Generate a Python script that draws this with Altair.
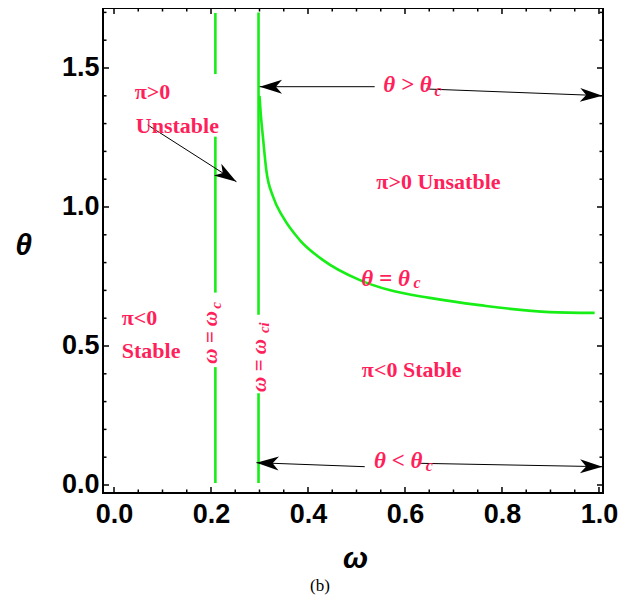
import altair as alt
import pandas as pd

# ---------------- data ----------------
# critical curve theta = theta_c(omega)
curve_omega = [0.3000, 0.3025, 0.307, 0.314, 0.328, 0.348, 0.383, 0.431, 0.507, 0.568, 0.651, 0.754, 0.898, 0.991]
curve_theta = [1.400, 1.337, 1.253, 1.133, 1.037, 0.965, 0.881, 0.809, 0.737, 0.701, 0.673, 0.647, 0.622, 0.619]

# vertical critical lines omega = omega_c and omega = omega_ci (theta ranges of visible pieces)
omega_c = 0.209
omega_ci = 0.298
omega_c_pieces = [(1.698, 1.478), (1.253, 0.692), (0.424, 0.007)]
omega_ci_pieces = [(1.700, 0.612), (0.330, 0.007)]

# ticks
x_major = [0.0, 0.2, 0.4, 0.6, 0.8, 1.0]
x_minor = [0.05, 0.1, 0.15, 0.25, 0.3, 0.35, 0.45, 0.5, 0.55, 0.65, 0.7, 0.75, 0.85, 0.9, 0.95]
y_major = [0.0, 0.5, 1.0, 1.5]
y_minor = [0.1, 0.2, 0.3, 0.4, 0.6, 0.7, 0.8, 0.9, 1.1, 1.2, 1.3, 1.4, 1.6, 1.7]

# arrows: shaft pieces (omega0, theta0, omega1, theta1)
arrow_shafts = [
    (0.0695, 1.295, 0.2524, 1.091),
    (0.3004, 1.4327, 0.5375, 1.4327),
    (0.644, 1.4245, 1.007, 1.4004),
    (0.2936, 0.0802, 0.517, 0.0658),
    (0.630, 0.078, 1.007, 0.0658),
]
# arrow heads: tip position and direction (deg, clockwise from +x on screen)
head_omega = [0.2524, 0.3004, 1.007, 0.2936, 1.007]
head_theta = [1.091, 1.4327, 1.4004, 0.0802, 0.0658]
head_angle = [32.6, 180.0, 2.2, 182.1, 1.1]

# annotations
upright_text = ["π>0", "Unstable", "π>0 Unsatble", "π<0", "Stable", "π<0 Stable"]
upright_omega = [0.0427, 0.045, 0.669, 0.016, 0.016, 0.511]
upright_theta = [1.414, 1.291, 1.090, 0.601, 0.482, 0.414]
upright_align = ["left", "left", "center", "left", "left", "left"]

italic_text = ["θ = θ", "θ > θ", "θ < θ"]
italic_omega = [0.560, 0.605, 0.586]
italic_theta = [0.741, 1.439, 0.0863]
sub_text = ["c", "c", "c"]
sub_omega = [0.625, 0.668, 0.650]
sub_theta = [0.725, 1.417, 0.068]

rot_text = ["ω = ω", "ω = ω"]
rot_omega = [0.2008, 0.302]
rot_theta = [0.531, 0.430]
rot_sub_text = ["c", "ci"]
rot_sub_omega = [0.211, 0.3087]
rot_sub_theta = [0.646, 0.566]

# ---------------- tables ----------------
rows = []
for i, (o, t) in enumerate(zip(curve_omega, curve_theta)):
    rows.append({"seg": "curve", "order": i, "omega": o, "theta": t})
for k, (t0, t1) in enumerate(omega_c_pieces):
    rows.append({"seg": f"c{k}", "order": 0, "omega": omega_c, "theta": t0})
    rows.append({"seg": f"c{k}", "order": 1, "omega": omega_c, "theta": t1})
for k, (t0, t1) in enumerate(omega_ci_pieces):
    rows.append({"seg": f"ci{k}", "order": 0, "omega": omega_ci, "theta": t0})
    rows.append({"seg": f"ci{k}", "order": 1, "omega": omega_ci, "theta": t1})
lines_df = pd.DataFrame(rows)

arows = []
for k, (o0, t0, o1, t1) in enumerate(arrow_shafts):
    arows.append({"seg": k, "order": 0, "omega": o0, "theta": t0})
    arows.append({"seg": k, "order": 1, "omega": o1, "theta": t1})
shaft_df = pd.DataFrame(arows)
head_df = pd.DataFrame({"omega": head_omega, "theta": head_theta, "angle": head_angle})

up_df = pd.DataFrame({"text": upright_text, "omega": upright_omega, "theta": upright_theta, "align": upright_align})
it_df = pd.DataFrame({"text": italic_text, "omega": italic_omega, "theta": italic_theta})
sub_df = pd.DataFrame({"text": sub_text, "omega": sub_omega, "theta": sub_theta})
rot_df = pd.DataFrame({"text": rot_text, "omega": rot_omega, "theta": rot_theta})
rsub_df = pd.DataFrame({"text": rot_sub_text, "omega": rot_sub_omega, "theta": rot_sub_theta})

# ---------------- chart ----------------
W, H = 500, 485
xs = alt.Scale(domain=[-0.0227, 1.0083], nice=False, zero=False)
ys = alt.Scale(domain=[-0.0288, 1.7158], nice=False, zero=False)
GREEN = "#16EE16"
RED = "#FF1F5B"

x_axis = alt.Axis(
    values=x_major, format=".1f", ticks=False, domain=False, grid=False,
    labelFont="Liberation Sans", labelFontWeight="bold", labelFontSize=27, labelColor="black",
    labelPadding=8, labelFlush=False,
    title="ω", titleFont="Liberation Sans", titleFontWeight="bold", titleFontStyle="italic",
    titleFontSize=30, titleColor="black", titleX=252, titleY=65, titleBaseline="middle", titleAlign="center",
)
y_axis = alt.Axis(
    values=y_major, format=".1f", ticks=False, domain=False, grid=False,
    labelFont="Liberation Sans", labelFontWeight="bold", labelFontSize=27, labelColor="black",
    labelPadding=4, labelFlush=False,
    title="θ", titleFont="Liberation Sans", titleFontWeight="bold", titleFontStyle="italic",
    titleFontSize=30, titleColor="black", titleAngle=0, titleX=-80, titleY=237,
    titleBaseline="middle", titleAlign="center",
)

X = lambda: alt.X("omega:Q", scale=xs, axis=x_axis)
Y = lambda: alt.Y("theta:Q", scale=ys, axis=y_axis)

green = alt.Chart(lines_df).mark_line(color=GREEN, strokeWidth=2.6, interpolate="monotone").encode(
    x=X(), y=Y(), detail="seg:N", order="order:Q",
)

def xticks(vals, length):
    d = pd.DataFrame({"omega": vals})
    bot = alt.Chart(d).mark_rule(color="black", strokeWidth=1.5).encode(
        x=X(), y=alt.value(H), y2=alt.value(H - length))
    top = alt.Chart(d).mark_rule(color="black", strokeWidth=1.5).encode(
        x=X(), y=alt.value(0), y2=alt.value(length))
    return [bot, top]

def yticks(vals, length):
    d = pd.DataFrame({"theta": vals})
    left = alt.Chart(d).mark_rule(color="black", strokeWidth=1.5).encode(
        y=Y(), x=alt.value(0), x2=alt.value(length))
    right = alt.Chart(d).mark_rule(color="black", strokeWidth=1.5).encode(
        y=Y(), x=alt.value(W), x2=alt.value(W - length))
    return [left, right]

ticks = xticks(x_major, 6) + xticks(x_minor, 3.5) + yticks(y_major, 6) + yticks(y_minor, 3.5)

shafts = alt.Chart(shaft_df).mark_line(color="black", strokeWidth=1).encode(
    x=X(), y=Y(), detail="seg:N", order="order:Q",
)
heads = alt.Chart(head_df).mark_point(
    shape="M0,0 L-2,-0.62 L-1.45,0 L-2,0.62 Z", filled=True, color="black", opacity=1, size=500, strokeWidth=0
).encode(
    x=X(), y=Y(), angle=alt.Angle("angle:Q", scale=None),
)

up_layers = []
for al in ["left", "center"]:
    up_layers.append(
        alt.Chart(up_df[up_df["align"] == al]).mark_text(
            font="Liberation Serif", fontWeight="bold", fontSize=22, color=RED, align=al, baseline="middle"
        ).encode(x=X(), y=Y(), text="text:N")
    )

italics = alt.Chart(it_df).mark_text(
    font="Liberation Serif", fontWeight="bold", fontStyle="italic", fontSize=23, color=RED,
    align="center", baseline="middle"
).encode(x=X(), y=Y(), text="text:N")

subs = alt.Chart(sub_df).mark_text(
    font="Liberation Serif", fontWeight="bold", fontStyle="italic", fontSize=16, color=RED,
    align="center", baseline="middle"
).encode(x=X(), y=Y(), text="text:N")

rots = alt.Chart(rot_df).mark_text(
    font="Liberation Serif", fontWeight="bold", fontStyle="italic", fontSize=21, color=RED,
    align="center", baseline="middle", angle=270
).encode(x=X(), y=Y(), text="text:N")

rsubs = alt.Chart(rsub_df).mark_text(
    font="Liberation Serif", fontWeight="bold", fontStyle="italic", fontSize=15, color=RED,
    align="center", baseline="middle", angle=270
).encode(x=X(), y=Y(), text="text:N")

chart = alt.layer(green, *ticks, shafts, heads, *up_layers, italics, subs, rots, rsubs).properties(
    width=W, height=H,
    autosize=alt.AutoSizeParams(type="none"),
    padding={"left": 95, "top": 0, "right": 20, "bottom": 110},
    title=alt.TitleParams("(b)", orient="bottom", font="Liberation Serif", fontSize=17,
                          fontWeight="normal", color="black", dx=-33, offset=5),
).configure_view(stroke="black", strokeWidth=2)

chart.save("out.html", embed_options={"renderer": "svg", "actions": False})
